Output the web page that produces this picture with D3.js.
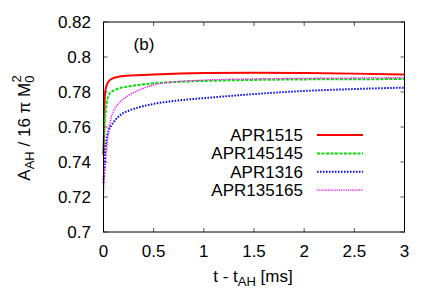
<!DOCTYPE html>
<html>
<head>
<meta charset="utf-8">
<script src="https://cdn.jsdelivr.net/npm/d3@7"></script>
<style>
  body { margin: 0; background: #fff; }
  text { font-family: "Liberation Sans", Arial, sans-serif; fill: #000; }
</style>
</head>
<body>
<svg id="chart" width="436" height="305"></svg>
<script>
// Data (t - t_AH in ms, normalised horizon area)
const xTicks = [0, 0.5, 1, 1.5, 2, 2.5, 3]
const yTicks = [0.7, 0.72, 0.74, 0.76, 0.78, 0.8, 0.82]

const tRed = [0, 0.004, 0.008, 0.012, 0.02, 0.03, 0.05, 0.1, 0.15, 0.3, 0.5, 1.0, 1.5, 2.0, 2.5, 3.0]
const aRed = [0.744, 0.755, 0.768, 0.776, 0.781, 0.7835, 0.786, 0.788, 0.7887, 0.7895, 0.790, 0.7908, 0.791, 0.7908, 0.7905, 0.790]

const tGreen = [0, 0.005, 0.01, 0.02, 0.03, 0.06, 0.1, 0.15, 0.25, 0.35, 0.5, 0.75, 1.0, 1.5, 2.0, 2.5, 3.0]
const aGreen = [0.745, 0.752, 0.760, 0.768, 0.773, 0.779, 0.7808, 0.782, 0.7832, 0.784, 0.785, 0.7858, 0.7863, 0.7869, 0.7872, 0.7873, 0.7874]

const tBlue = [0, 0.01, 0.02, 0.03, 0.05, 0.08, 0.15, 0.25, 0.35, 0.5, 0.75, 1.0, 1.5, 2.0, 2.5, 3.0]
const aBlue = [0.728, 0.738, 0.748, 0.753, 0.758, 0.761, 0.766, 0.7693, 0.7712, 0.7732, 0.7752, 0.7765, 0.7788, 0.7806, 0.7817, 0.7825]

const tMag = [0, 0.01, 0.02, 0.03, 0.045, 0.06, 0.08, 0.1, 0.15, 0.2, 0.25, 0.35, 0.5, 0.75, 1.0, 1.5, 2.0, 2.5, 3.0]
const aMag = [0.722, 0.733, 0.740, 0.747, 0.7545, 0.761, 0.766, 0.769, 0.7735, 0.776, 0.778, 0.781, 0.784, 0.786, 0.7868, 0.7875, 0.7878, 0.788, 0.7882]

const seriesNames = ["APR1515", "APR145145", "APR1316", "APR135165"]

const series = [
    { name: seriesNames[0], t: tRed, a: aRed, color: "#ff0000", dash: null, width: 2 },
    { name: seriesNames[1], t: tGreen, a: aGreen, color: "#00e000", dash: "3,1.5", width: 2 },
    { name: seriesNames[2], t: tBlue, a: aBlue, color: "#0000ff", dash: "1.5,1.5", width: 2 },
    { name: seriesNames[3], t: tMag, a: aMag, color: "#ff00ff", dash: "1.2,1", width: 1.3 },
]

const svg = d3.select("#chart")
const margin = { left: 103.5, right: 31.5, top: 22, bottom: 73 }
const W = 436, H = 305

const x = d3.scaleLinear().domain([0, 3]).range([margin.left, W - margin.right])
const y = d3.scaleLinear().domain([0.7, 0.82]).range([H - margin.bottom, margin.top])

// Ticks (inward, all four sides)
const tickLen = 4
const tg = svg.append("g").attr("stroke", "#555").attr("stroke-width", 1)
xTicks.forEach(v => {
    tg.append("line").attr("x1", x(v)).attr("x2", x(v)).attr("y1", y(0.7)).attr("y2", y(0.7) - tickLen)
    tg.append("line").attr("x1", x(v)).attr("x2", x(v)).attr("y1", y(0.82)).attr("y2", y(0.82) + tickLen)
})
yTicks.forEach(v => {
    tg.append("line").attr("x1", x(0)).attr("x2", x(0) + tickLen).attr("y1", y(v)).attr("y2", y(v))
    tg.append("line").attr("x1", x(3)).attr("x2", x(3) - tickLen).attr("y1", y(v)).attr("y2", y(v))
})

// Tick labels
svg.append("g").selectAll("text").data(xTicks).enter().append("text")
    .attr("x", d => x(d)).attr("y", 257)
    .attr("text-anchor", "middle").attr("font-size", 17)
    .text(d => d)
svg.append("g").selectAll("text").data(yTicks).enter().append("text")
    .attr("x", 91).attr("y", d => y(d) + 6)
    .attr("text-anchor", "end").attr("font-size", 17)
    .text(d => d)

// Curves
const plot = svg.append("g")
series.forEach(s => {
    const pts = s.t.map((t, i) => [t, s.a[i]])
    const line = d3.line().x(d => x(d[0])).y(d => y(d[1])).curve(d3.curveMonotoneX)
    plot.append("path")
        .attr("d", line(pts))
        .attr("fill", "none")
        .attr("stroke", s.color)
        .attr("stroke-width", s.width)
        .attr("stroke-dasharray", s.dash)
})

// Frame
svg.append("rect")
    .attr("x", x(0)).attr("y", y(0.82))
    .attr("width", x(3) - x(0)).attr("height", y(0.7) - y(0.82))
    .attr("fill", "none").attr("stroke", "#000").attr("stroke-width", 1)

// Legend
const leg = svg.append("g")
series.forEach((s, i) => {
    const ly = 135 + i * 18.4
    leg.append("text").attr("x", 303).attr("y", ly + 6)
        .attr("text-anchor", "end").attr("font-size", 17).text(s.name)
    leg.append("line").attr("x1", 317).attr("x2", 363).attr("y1", ly).attr("y2", ly)
        .attr("stroke", s.color).attr("stroke-width", s.width).attr("stroke-dasharray", s.dash)
})

// Panel label
svg.append("text").attr("x", 144).attr("y", 50).attr("text-anchor", "middle")
    .attr("font-size", 17).text("(b)")

// Axis labels
const xl = svg.append("text").attr("x", 253).attr("y", 282).attr("text-anchor", "middle").attr("font-size", 17)
xl.append("tspan").text("t - t")
xl.append("tspan").attr("font-size", 13).attr("dy", 4).text("AH")
xl.append("tspan").attr("dy", -4).text(" [ms]")

const yl = svg.append("text").attr("transform", "translate(30,128) rotate(-90)")
    .attr("text-anchor", "middle").attr("font-size", 17)
yl.append("tspan").text("A")
yl.append("tspan").attr("font-size", 13).attr("dy", 4).text("AH")
yl.append("tspan").attr("dy", -4).text(" / 16 \u03c0 M")
yl.append("tspan").attr("font-size", 13).attr("dy", 4).text("0")
yl.append("tspan").attr("font-size", 13).attr("dy", -13).attr("dx", -7).text("2")
</script>
</body>
</html>
